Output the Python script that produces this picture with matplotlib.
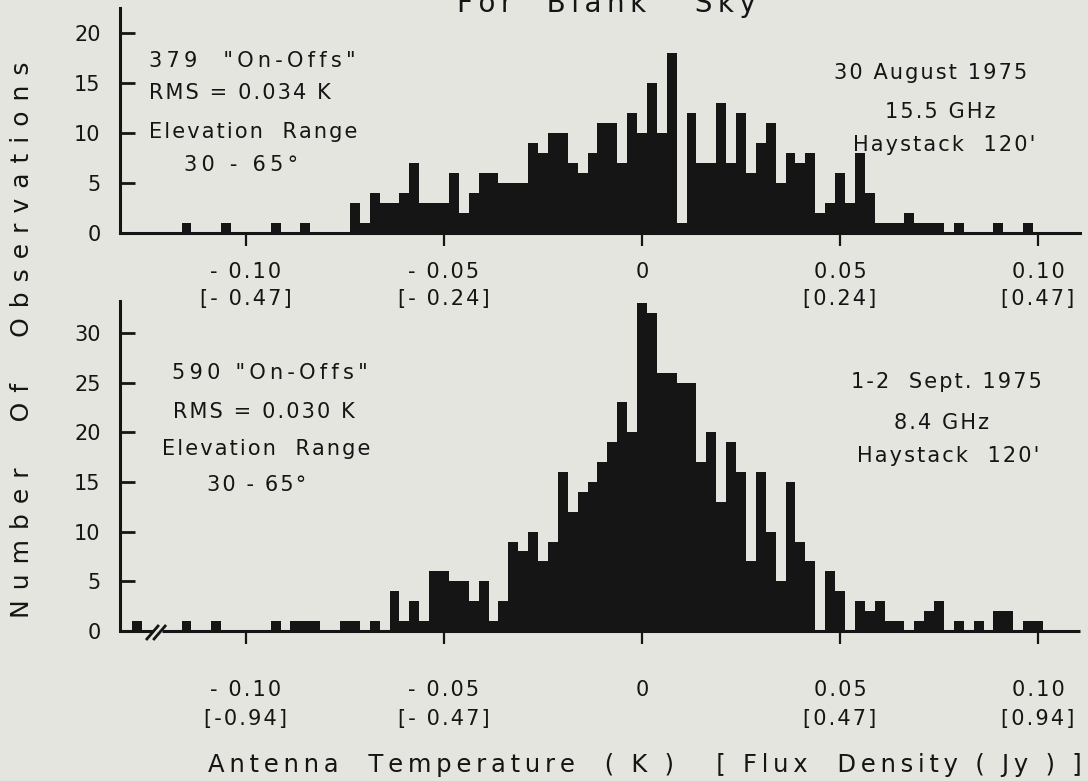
import numpy as np
import matplotlib.pyplot as plt
from matplotlib.transforms import offset_copy

plt.rcParams['font.family'] = 'DejaVu Sans'

W, H = 1088, 781
bg = '#e3e5de'
ink = '#151515'

bin_width = 0.0025

# 30 August 1975, 15.5 GHz -- counts per 0.0025 K bin, first bin centred at -0.115 K
top_first = -0.115
top_counts = [
    1, 0, 0, 0, 1, 0, 0, 0, 0, 1,
    0, 0, 1, 0, 0, 0, 0, 3, 1, 4,
    3, 3, 4, 7, 3, 3, 3, 6, 2, 4,
    6, 6, 5, 5, 5, 9, 8, 10, 10, 7,
    6, 8, 11, 11, 7, 12, 10, 15, 10, 18,
    1, 12, 7, 7, 13, 7, 12, 6, 9, 11,
    5, 8, 7, 8, 2, 3, 6, 3, 8, 4,
    1, 1, 1, 2, 1, 1, 1, 0, 1, 0,
    0, 0, 1, 0, 0, 1,
]

# 1-2 Sept 1975, 8.4 GHz -- first bin centred at -0.1275 K
bot_first = -0.1275
bot_counts = [
    1, 0, 0, 0, 0, 1, 0, 0, 1, 0,
    0, 0, 0, 0, 1, 0, 1, 1, 1, 0,
    0, 1, 1, 0, 1, 0, 4, 1, 3, 1,
    6, 6, 5, 5, 3, 5, 1, 3, 9, 8,
    10, 7, 9, 16, 12, 14, 15, 17, 19, 23,
    20, 33, 32, 26, 26, 25, 25, 17, 20, 13,
    19, 16, 7, 16, 10, 5, 15, 9, 7, 0,
    6, 4, 0, 3, 2, 3, 1, 1, 0, 1,
    2, 3, 0, 1, 0, 1, 0, 2, 2, 0,
    1, 1,
]

xticks = [-0.10, -0.05, 0, 0.05, 0.10]
xlabels = ['- 0.10', '- 0.05', '0', '0.05', '0.10']
top_flux = ['[- 0.47]', '[- 0.24]', '', '[0.24]', '[0.47]']
bot_flux = ['[-0.94]', '[- 0.47]', '', '[0.47]', '[0.94]']

top_notes = ['379  "On-Offs"', 'RMS = 0.034 K', 'Elevation  Range', '30 - 65°']
top_info = ['30 August 1975', '15.5 GHz', "Haystack  120'"]
bot_notes = ['590 "On-Offs"', 'RMS = 0.030 K', 'Elevation  Range', '30 - 65°']
bot_info = ['1-2  Sept. 1975', '8.4 GHz', "Haystack  120'"]


def track(s, n=1):
    # loose letter spacing like the lettering-guide text
    return ('\u200a' * n).join(s)


def fxy(x, y):
    return x / W, 1 - y / H


fig = plt.figure(figsize=(W / 100, H / 100), dpi=100, facecolor=bg)

xlim = (-0.1318, 0.1106)
ax1 = fig.add_axes([120 / W, 1 - 233 / H, 960 / W, 225 / H])
ax2 = fig.add_axes([120 / W, 1 - 631 / H, 960 / W, 330 / H])

for ax, first, counts, ymax, yt in [(ax1, top_first, top_counts, 22.5, range(0, 21, 5)),
                                    (ax2, bot_first, bot_counts, 33.2, range(0, 31, 5))]:
    edges = first - bin_width / 2 + bin_width * np.arange(len(counts) + 1)
    ax.stairs(counts, edges, fill=True, color=ink, lw=0)
    ax.set_facecolor('none')
    ax.set_xlim(*xlim)
    ax.set_ylim(0, ymax)
    for s in ['top', 'right']:
        ax.spines[s].set_visible(False)
    for s in ['left', 'bottom']:
        ax.spines[s].set_linewidth(2.2)
        ax.spines[s].set_color(ink)
    ax.set_yticks(list(yt))
    ax.tick_params(axis='y', direction='in', length=11, width=2, pad=14,
                   labelsize=15, colors=ink)
    ax.set_xticks(xticks)
    ax.set_xticklabels([track(l) for l in xlabels])
    ax.tick_params(axis='x', direction='out', length=9, width=1.6,
                   labelsize=15, colors=ink)

ax1.tick_params(axis='x', pad=12)
ax2.tick_params(axis='x', pad=26)

# flux-density row under the temperature labels
for ax, labels, dy in [(ax1, top_flux, 66), (ax2, bot_flux, 88)]:
    tr = offset_copy(ax.get_xaxis_transform(), fig=fig, y=-dy, units='dots')
    for x, lab in zip(xticks, labels):
        ax.text(x, 0, track(lab), transform=tr, ha='center', va='center',
                fontsize=15, color=ink)

# broken axis on the lower panel
ax2.spines['bottom'].set_visible(False)
ax2.plot([xlim[0], -0.1235], [0, 0], color=ink, lw=2.2, clip_on=False, solid_capstyle='butt')
ax2.plot([-0.1212, xlim[1]], [0, 0], color=ink, lw=2.2, clip_on=False, solid_capstyle='butt')
ax2.plot([-0.1250, -0.1222], [-0.8, 0.5], color=ink, lw=2, clip_on=False)
ax2.plot([-0.1232, -0.1204], [-0.8, 0.5], color=ink, lw=2, clip_on=False)

# annotations
note_track = [2, 1, 1, 2]
for (x, y), s, n in zip([(252, 61), (240, 93), (253, 132), (241, 165)], top_notes, note_track):
    fig.text(*fxy(x, y), track(s, n), ha='center', va='center', fontsize=15, color=ink)
for (x, y), s in zip([(931, 73), (940, 112), (944, 145)], top_info):
    fig.text(*fxy(x, y), track(s), ha='center', va='center', fontsize=15, color=ink)
for (x, y), s, n in zip([(270, 373), (264, 412), (266, 449), (257, 485)], bot_notes, [2, 1, 1, 1]):
    fig.text(*fxy(x, y), track(s, n), ha='center', va='center', fontsize=15, color=ink)
for (x, y), s in zip([(946, 382), (941, 423), (948, 456)], bot_info):
    fig.text(*fxy(x, y), track(s), ha='center', va='center', fontsize=15, color=ink)

# title, cut off by the top edge of the page
fig.text(*fxy(457, 12), track('For  Blank   Sky', 2), ha='left', va='baseline',
         fontsize=20, color=ink)

fig.text(*fxy(22, 340), track('Number  Of  Observations', 4), rotation=90,
         ha='center', va='center', fontsize=18, color=ink)
fig.text(*fxy(645, 765), track('Antenna  Temperature  ( K )   [ Flux  Density ( Jy ) ]', 2),
         ha='center', va='center', fontsize=17.5, color=ink)

fig.savefig('out.png', dpi=100, facecolor=bg)
